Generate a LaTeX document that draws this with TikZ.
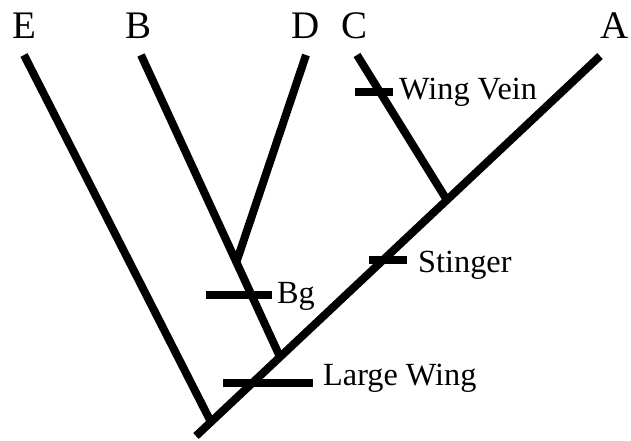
\documentclass[tikz,border=0pt]{standalone}
\usepackage{fontspec}
\setmainfont{Liberation Serif}
\usetikzlibrary{calc}
\begin{document}
\begin{tikzpicture}[x=1pt,y=-1pt,
  branch/.style={line width=8pt},
  tick/.style={line width=8pt},
  taxon/.style={anchor=base,inner sep=0pt,font=\fontsize{39}{41}\selectfont},
  trait/.style={anchor=base west,inner sep=0pt,font=\fontsize{32.3}{34}\selectfont}]
\useasboundingbox (0,0) rectangle (631,440);
% taxa labels
\node[taxon] (lE) at (24,38) {E};
\node[taxon] (lB) at (139,38) {B};
\node[taxon] (lD) at (306,38) {D};
\node[taxon] (lC) at (355,38) {C};
\node[taxon] (lA) at (615,38) {A};
% branch ends
\coordinate (root) at (196,436);
\coordinate (tA) at (600,56);
\coordinate (tE) at (24,55);
\coordinate (tB) at (141,55);
\coordinate (tD) at (306,55);
\coordinate (tC) at (357,55);
\coordinate (jE) at ($(root)!0.037!(tA)$);
\coordinate (jB) at ($(root)!0.208!(tA)$);
\coordinate (jC) at ($(root)!0.621!(tA)$);
\coordinate (jD) at ($(tB)!0.686!(jB)$);
% branches
\draw[branch] (root) -- (tA);
\draw[branch] (jE) -- (tE);
\draw[branch] (jB) -- (tB);
\draw[branch] (jD) -- (tD);
\draw[branch] (jC) -- (tC);
% character ticks
\coordinate (wv1) at (355,92); \coordinate (wv2) at (393,92);
\coordinate (st1) at (369,260); \coordinate (st2) at (407,260);
\coordinate (bg1) at (206,295); \coordinate (bg2) at (272,295);
\coordinate (lw1) at (223,383); \coordinate (lw2) at (313,383);
\draw[tick] (wv1) -- (wv2);
\draw[tick] (st1) -- (st2);
\draw[tick] (bg1) -- (bg2);
\draw[tick] (lw1) -- (lw2);
\node[trait] (tWV) at (399,99) {Wing Vein};
\node[trait] (tST) at (418,272) {Stinger};
\node[trait] (tBG) at (277,303) {Bg};
\node[trait] (tLW) at (323,385) {Large Wing};
\end{tikzpicture}
\end{document}
